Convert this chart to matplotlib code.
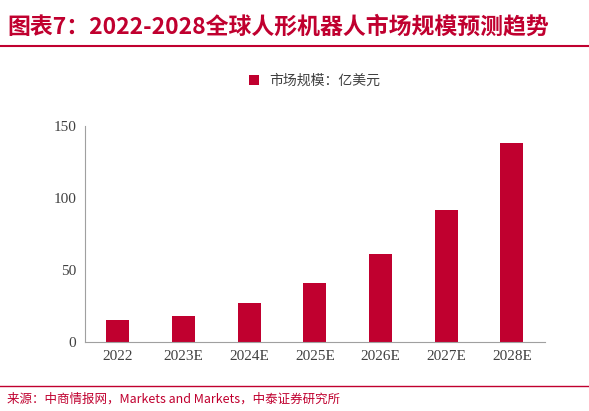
import matplotlib
matplotlib.use("Agg")
import matplotlib.pyplot as plt
from matplotlib.lines import Line2D

plt.rcParams['font.family'] = ['Noto Sans CJK SC', 'DejaVu Sans']

years = ["2022", "2023E", "2024E", "2025E", "2026E", "2027E", "2028E"]
values = [15, 18, 27, 41, 61, 92, 138]
color = "#C0002F"

fig = plt.figure(figsize=(5.89, 4.11), dpi=100)
ax = fig.add_axes([0.144, 0.168, 0.781, 0.525])
ax.bar(years, values, width=0.35, color=color, label="市场规模：亿美元")
ax.set_ylim(0, 150)
ax.set_yticks([0, 50, 100, 150])
ax.set_xlim(-0.5, 6.5)
for s in ["top", "right"]:
    ax.spines[s].set_visible(False)
for s in ["left", "bottom"]:
    ax.spines[s].set_color("#A0A0A0")
ax.tick_params(axis="both", length=0, labelsize=11, colors="#404040", pad=6)
for lab in ax.get_xticklabels() + ax.get_yticklabels():
    lab.set_family("Liberation Serif")
ax.legend(loc="lower center", bbox_to_anchor=(0.5, 1.12), frameon=False, fontsize=10,
          handlelength=0.7, handleheight=0.7, labelcolor="#404040")

fig.text(0.012, 0.935, "图表7：2022-2028全球人形机器人市场规模预测趋势", color=color,
         fontsize=16.5, fontweight="bold", style="italic", ha="left", va="center")
fig.add_artist(Line2D([0.0, 1.0], [0.888, 0.888], color=color, lw=1.5))
fig.add_artist(Line2D([0.0, 1.0], [0.06, 0.06], color=color, lw=1.0))
fig.text(0.012, 0.028, "来源：中商情报网，Markets and Markets，中泰证券研究所", color=color,
         fontsize=9, ha="left", va="center")
fig.savefig("out.png", dpi=100)
